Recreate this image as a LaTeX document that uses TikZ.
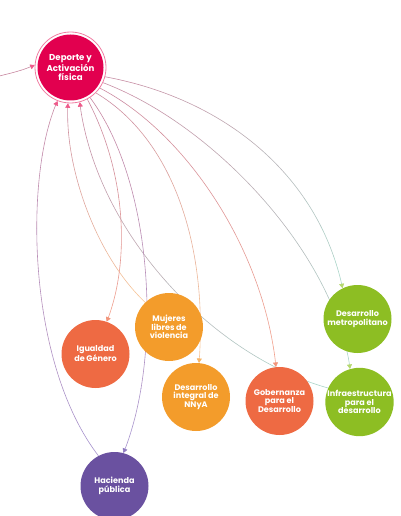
\documentclass[tikz,border=0pt]{standalone}
\usepackage{fontspec}
\setmainfont{Poppins}
\usetikzlibrary{arrows.meta}
\pgfdeclarelayer{edges}
\pgfsetlayers{edges,main}

\definecolor{cDep}{HTML}{E2004F}
\definecolor{cRing}{HTML}{F07CA2}
\definecolor{cRed}{HTML}{EE6A43}
\definecolor{cOra}{HTML}{F39C2B}
\definecolor{cGrn}{HTML}{8DBE23}
\definecolor{cPur}{HTML}{6A51A0}
\definecolor{lDep}{HTML}{C98AA2}
\definecolor{lRed}{HTML}{F3A08A}
\definecolor{lOra}{HTML}{F9C898}
\definecolor{lGrn}{HTML}{A9D9CB}
\definecolor{lPur}{HTML}{A594CF}
\definecolor{aDep}{HTML}{EE5A8A}
\definecolor{aRed}{HTML}{F29479}
\definecolor{aOra}{HTML}{F7B567}
\definecolor{aGrn}{HTML}{B5D86F}
\definecolor{aPur}{HTML}{8F7BC0}

% gradient edge: colA, colB, arrow colour, p0, c1, c2, p3
\newcommand\gradedge[7]{%
  \foreach \k in {0,...,9}{%
    \pgfmathsetmacro\ta{\k/10}%
    \pgfmathsetmacro\tb{(\k+1)/10}%
    \pgfmathtruncatemacro\pc{\k*10+5}%
    \begin{pgfscope}%
      \colorlet{segc}{#2!\pc!#1}%
      \pgfsetstrokecolor{segc}%
      \pgfsetlinewidth{0.6pt}%
      \pgfsetroundcap
      \ifnum\k=9 \pgfsetarrows{-{Triangle[width=5pt,length=4.5pt,color=#3]}}\fi
      \pgfpathcurvebetweentime{\ta}{\tb}{#4}{#5}{#6}{#7}%
      \pgfusepath{stroke}%
    \end{pgfscope}%
  }%
}

\tikzset{
  bub/.style={circle, minimum size=68pt, inner sep=0pt, text=white,
    font=\bfseries\fontsize{8.1}{8.7}\selectfont, align=center},
}

\begin{document}
\begin{tikzpicture}[x=1pt,y=-1pt]
\useasboundingbox (0,0) rectangle (400,516);

\node[bub, fill=cDep, minimum size=66pt, font=\bfseries\fontsize{8.6}{9.3}\selectfont] (dep) at (70.5,67.5) {Deporte y\\Activación\\física};
\node[circle, draw=cRing, line width=0.8pt, minimum size=71pt, inner sep=0pt] (depring) at (70.5,67.5) {};
\node[bub, fill=cRed] (igu) at (95.5,354) {Igualdad\\de Género};
\node[bub, fill=cOra] (muj) at (169,327) {Mujeres\\libres de\\violencia};
\node[bub, fill=cOra] (nna) at (196,397) {Desarrollo\\integral de\\NNyA};
\node[bub, fill=cRed] (gob) at (279.5,401) {Gobernanza\\para el\\Desarrollo};
\node[bub, fill=cGrn] (met) at (357.5,319) {Desarrollo\\metropolitano};
\node[bub, fill=cGrn] (inf) at (359.5,402) {Infraestructura\\para el\\desarrollo};
\node[bub, fill=cPur] (hac) at (114.5,486) {Hacienda\\pública};
\coordinate (lft) at (-5,77);

\begin{pgfonlayer}{edges}
\gradedge{lDep}{lDep}{aDep}{\pgfpointanchor{lft}{center}}{\pgfpointxy{12}{73}}{\pgfpointxy{24}{70}}{\pgfpointanchor{depring}{176}}
\gradedge{lPur}{lDep}{aDep}{\pgfpointanchor{hac}{118}}{\pgfpointxy{25}{360}}{\pgfpointxy{25}{170}}{\pgfpointanchor{depring}{-111}}
\gradedge{lOra}{lDep}{aDep}{\pgfpointanchor{muj}{134}}{\pgfpointxy{95}{255}}{\pgfpointxy{64}{165}}{\pgfpointanchor{depring}{-94}}
\gradedge{lGrn}{lDep}{aDep}{\pgfpointanchor{inf}{156}}{\pgfpointxy{210}{355}}{\pgfpointxy{95}{230}}{\pgfpointanchor{depring}{-75}}
\gradedge{lDep}{lRed}{aRed}{\pgfpointanchor{depring}{-62}}{\pgfpointxy{130}{180}}{\pgfpointxy{128}{270}}{\pgfpointanchor{igu}{71}}
\gradedge{lDep}{lPur}{aPur}{\pgfpointanchor{depring}{-57}}{\pgfpointxy{155}{185}}{\pgfpointxy{162}{360}}{\pgfpointanchor{hac}{75}}
\gradedge{lDep}{lOra}{aOra}{\pgfpointanchor{depring}{-45}}{\pgfpointxy{175}{140}}{\pgfpointxy{208}{250}}{\pgfpointanchor{nna}{85}}
\gradedge{lDep}{lRed}{aRed}{\pgfpointanchor{depring}{-35}}{\pgfpointxy{190}{135}}{\pgfpointxy{265}{255}}{\pgfpointanchor{gob}{96}}
\gradedge{lDep}{lGrn}{aGrn}{\pgfpointanchor{depring}{-25}}{\pgfpointxy{215}{125}}{\pgfpointxy{335}{255}}{\pgfpointanchor{inf}{106}}
\gradedge{lDep}{lGrn}{aGrn}{\pgfpointanchor{depring}{-15}}{\pgfpointxy{230}{100}}{\pgfpointxy{320}{180}}{\pgfpointanchor{met}{116}}
\end{pgfonlayer}
\end{tikzpicture}
\end{document}
